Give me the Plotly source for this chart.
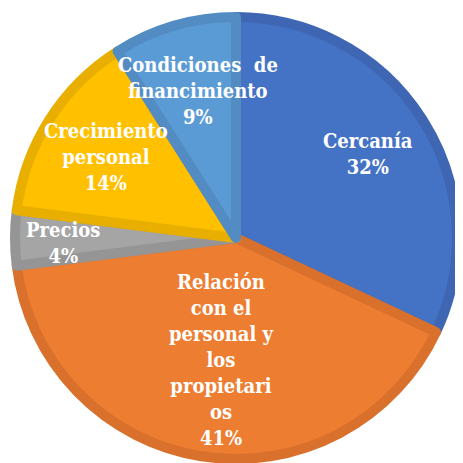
import math
import plotly.graph_objects as go

# Data
categories = ["Cercanía", "Relación con el personal y los propietarios", "Precios",
              "Crecimiento personal", "Condiciones de financimiento"]
values = [32, 41, 4, 14, 9]
label_texts = ["Cercanía", "Relación<br>con el<br>personal y<br>los<br>propietari<br>os",
               "Precios", "Crecimiento<br>personal", "Condiciones&nbsp; de<br>financimiento"]

# Styles
fill_colors = ["#4472C4", "#ED7D31", "#A5A5A5", "#FFC000", "#5B9BD5"]
edge_colors = ["#3E66B2", "#D9712C", "#959595", "#E8AF00", "#528CC2"]
label_radius = [0.69, 0.542, 0.766, 0.678, 0.672]   # fraction of radius
label_shift = [0, -2, -1.7, -0.5, 1.7]              # angular tweak (deg)

W = H = 463
PAGE_OFF = 8               # browser body margin
cx, cy = 236 - PAGE_OFF, 238 - PAGE_OFF   # pixel centre within the figure
R = 221                    # slice radius (line adds ~5px)
FONT = "DejaVu Serif Condensed, DejaVu Serif"

fig = go.Figure(go.Pie(
    labels=categories, values=values, sort=False, direction="clockwise",
    rotation=0, textinfo="none", hoverinfo="label+percent",
    marker=dict(colors=fill_colors, line=dict(color=edge_colors, width=10)),
    domain=dict(x=[(cx - R) / W, (cx + R) / W],
                y=[(H - cy - R) / H, (H - cy + R) / H]),
    showlegend=False,
))

total = sum(values)
cum = 0
annotations = []
for i, v in enumerate(values):
    mid = (cum + v / 2) / total * 360 + label_shift[i]
    cum += v
    r = label_radius[i] * (R + 5)
    px = cx + r * math.sin(math.radians(mid))
    py = cy - r * math.cos(math.radians(mid))
    pct = round(v / total * 100)
    annotations.append(dict(
        x=px / W, y=1 - py / H, xref="paper", yref="paper",
        text=f"<b>{label_texts[i]}<br>{pct}%</b>", showarrow=False,
        font=dict(family=FONT, size=20, color="white"),
        align="center", xanchor="center", yanchor="middle",
    ))

fig.update_layout(
    width=W, height=H, margin=dict(l=0, r=0, t=0, b=0),
    paper_bgcolor="white", plot_bgcolor="white",
    font=dict(family=FONT),
    annotations=annotations,
)

fig.write_html("out.html")
